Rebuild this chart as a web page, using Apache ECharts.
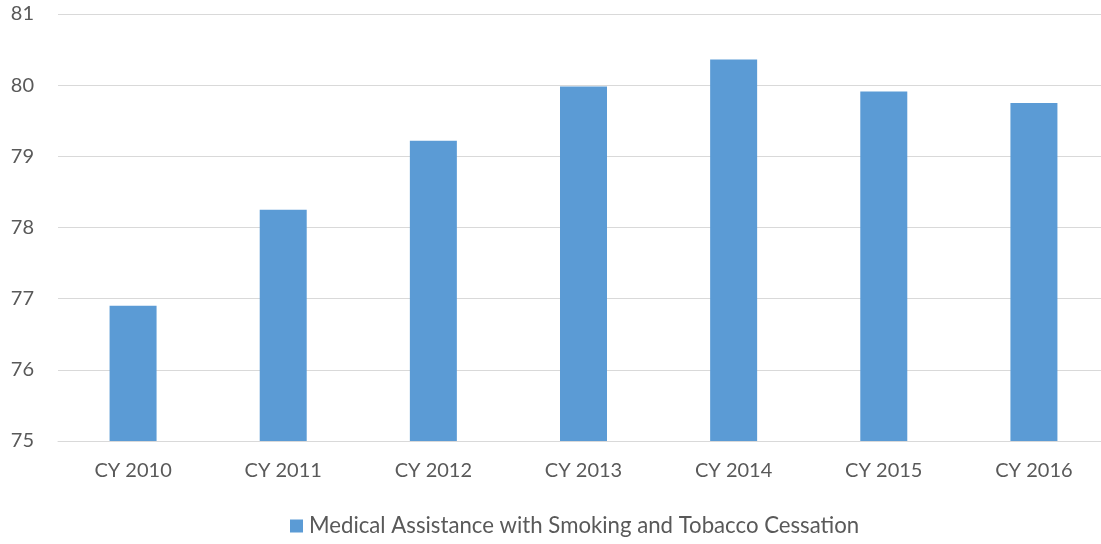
<!DOCTYPE html>
<html><head><meta charset="utf-8">
<script src="https://cdn.jsdelivr.net/npm/echarts@6/dist/echarts.min.js"></script>
<style>html,body{margin:0;padding:0;background:#fff}#c{width:1101px;height:544px}</style>
</head><body><div id="c"></div>
<script>
const categories = ['CY 2010','CY 2011','CY 2012','CY 2013','CY 2014','CY 2015','CY 2016'];
const seriesName = 'Medical Assistance with Smoking and Tobacco Cessation';
const values = [76.90, 78.25, 79.22, 79.98, 80.36, 79.91, 79.75];
const yMin = 75, yMax = 81, yStep = 1;

const chart = echarts.init(document.getElementById('c'), null, {renderer:'canvas'});
const font = 'Lato, "Open Sans", sans-serif';
chart.setOption({
  animation: false,
  grid: {left: 58, right: -8, top: 14, bottom: 103, containLabel: false, outerBoundsMode: 'none'},
  legend: {
    top: 515, left: 290, padding: 0,
    itemWidth: 13, itemHeight: 13, itemGap: 6,
    icon: 'rect',
    textStyle: {fontFamily: font, fontSize: 22.2, color: '#595959', padding: [0,0,0,1]},
    data: [seriesName]
  },
  xAxis: {
    type: 'category', data: categories,
    axisLine: {show: true, lineStyle: {color: '#d9d9d9', width: 1}},
    axisTick: {show: false},
    axisLabel: {fontFamily: font, fontSize: 20, color: '#595959', margin: 20}
  },
  yAxis: {
    type: 'value', min: yMin, max: yMax, interval: yStep,
    axisLine: {show: false}, axisTick: {show: false},
    splitLine: {lineStyle: {color: '#d9d9d9', width: 1}},
    axisLabel: {fontFamily: font, fontSize: 20, color: '#595959', margin: 24}
  },
  series: [{
    name: seriesName, type: 'bar', data: values,
    barWidth: 47,
    itemStyle: {color: '#5b9bd5'}
  }]
});
</script></body></html>
